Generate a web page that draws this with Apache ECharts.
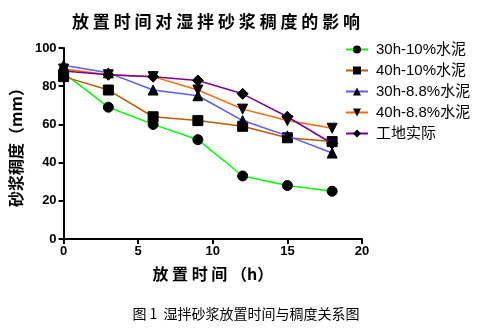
<!DOCTYPE html>
<html>
<head>
<meta charset="utf-8">
<script src="https://cdn.jsdelivr.net/npm/echarts@6/dist/echarts.min.js"></script>
<style>
  html, body { margin: 0; padding: 0; background: #fff; }
  #chart { width: 483px; height: 334px; }
</style>
</head>
<body>
<div id="chart"></div>
<script>
// Hours after mixing
const hours = [0, 3, 6, 9, 12, 15, 18];
// Consistency (mm) per mix
const s30h10 = [87, 69, 60, 52, 33, 28, 25];
const s40h10 = [85, 78, 64, 62, 59, 53, 51];
const s30h88 = [91, 87, 78, 75, 62, 54, 45];
const s40h88 = [89, 86, 85, 78, 68, 62, 58];
const siteActual = [88, 86, 85, 83, 76, 64, 50];

const seriesNames = ['30h-10%水泥', '40h-10%水泥', '30h-8.8%水泥', '40h-8.8%水泥', '工地实际'];
const xTicks = [0, 5, 10, 15, 20];
const yTicks = [0, 20, 40, 60, 80, 100];

const colors = ['#00ff00', '#c05a00', '#5a5aff', '#ff6600', '#7a00a0'];
const symbols = ['circle', 'rect', 'triangle', 'path://M0,0 L10,0 L5,10 Z', 'diamond'];
const sizes = [10, 10, 10, 10, 11];
const allData = [s30h10, s40h10, s30h88, s40h88, siteActual];

const chart = echarts.init(document.getElementById('chart'));
const boldNum = { color: '#000', fontFamily: 'Liberation Sans, Arial', fontWeight: 'bold', fontSize: 13 };

chart.setOption({
  animation: false,
  backgroundColor: '#fff',
  title: [
    {
      text: '放 置 时 间 对 湿 拌 砂 浆 稠 度 的 影 响',
      left: 211, top: 8, textAlign: 'center',
      textStyle: { fontFamily: 'Noto Sans CJK SC', fontWeight: 'bold', fontSize: 17, color: '#000' }
    },
    {
      text: '图 1  湿拌砂浆放置时间与稠度关系图',
      left: 241, top: 302, textAlign: 'center',
      textStyle: { fontFamily: 'Noto Sans CJK SC', fontWeight: 'normal', fontSize: 14, color: '#000' }
    }
  ],
  legend: {
    orient: 'vertical',
    left: 340, top: 37,
    itemWidth: 22, itemHeight: 10, itemGap: 6,
    data: seriesNames,
    textStyle: { fontFamily: 'Liberation Sans, Arial, Noto Sans CJK SC', fontSize: 15, color: '#000', padding: [0, 0, 0, 3] }
  },
  grid: { left: 61, right: 121, top: 48, bottom: 95, containLabel: false },
  xAxis: {
    type: 'value', min: 0, max: 20, interval: 5,
    name: '放 置 时 间 （h）', nameLocation: 'middle', nameGap: 27,
    nameTextStyle: { fontFamily: 'Noto Sans CJK SC', fontWeight: 'bold', fontSize: 16, color: '#000' },
    axisLine: { lineStyle: { color: '#000', width: 2 } },
    axisTick: { show: true, length: 5, lineStyle: { color: '#000', width: 2 } },
    axisLabel: Object.assign({ margin: 6, formatter: v => xTicks.includes(v) ? String(v) : '' }, boldNum),
    splitLine: { show: false }
  },
  yAxis: {
    type: 'value', min: 0, max: 100, interval: 20,
    name: '砂浆稠度（mm）', nameLocation: 'middle', nameGap: 38, nameRotate: 90,
    nameTextStyle: { fontFamily: 'Noto Sans CJK SC', fontWeight: 'bold', fontSize: 16, color: '#000' },
    axisLine: { show: true, lineStyle: { color: '#000', width: 2 } },
    axisTick: { show: true, length: 5, lineStyle: { color: '#000', width: 2 } },
    axisLabel: Object.assign({ margin: 7, formatter: v => yTicks.includes(v) ? String(v) : '' }, boldNum),
    splitLine: { show: false }
  },
  series: allData.map((vals, i) => ({
    name: seriesNames[i],
    type: 'line',
    data: hours.map((h, k) => [h, vals[k]]),
    symbol: symbols[i],
    symbolSize: sizes[i],
    showAllSymbol: true,
    lineStyle: { color: colors[i], width: 1.5 },
    itemStyle: { color: '#000', borderColor: '#000' },
    z: 2 + i
  }))
});
</script>
</body>
</html>
